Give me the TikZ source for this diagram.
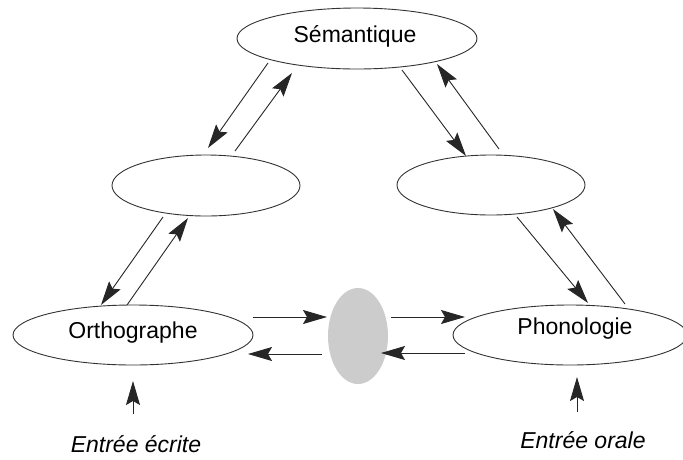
\documentclass[tikz,border=0pt]{standalone}
\usepackage{fontspec}
\setmainfont{Liberation Sans}
\usetikzlibrary{shapes.geometric,arrows.meta,calc}
\begin{document}
\begin{tikzpicture}[x=1pt,y=-1pt,
  ell/.style={draw=black!80,line width=0.9pt,ellipse,inner sep=0pt},
  lbl/.style={anchor=base,inner sep=0pt,font=\fontsize{23}{27}\selectfont},
  ilbl/.style={lbl,font=\fontsize{23}{27}\selectfont\itshape},
  arr/.style={draw=black!85,line width=0.9pt,-{Stealth[length=24pt,width=14pt,inset=4pt]}}]
\useasboundingbox (0,0) rectangle (683,459);
% nodes
\node[ell,minimum width=240pt,minimum height=61pt] (sem) at (357,38.5) {};
\node[ell,minimum width=188pt,minimum height=61pt] (L) at (206,185.5) {};
\node[ell,minimum width=188pt,minimum height=60pt] (R) at (491,185) {};
\node[ell,minimum width=240pt,minimum height=60pt] (orth) at (133,335) {};
\node[ell,minimum width=234pt,minimum height=60pt] (pho) at (570,335) {};
\node[ellipse,fill=gray!40,draw=none,minimum width=60pt,minimum height=96pt,inner sep=0pt] (grey) at (358,336) {};
% labels
\node[lbl] (semt) at (355,42) {Sémantique};
\node[lbl] (ortht) at (133,338) {Orthographe};
\node[lbl] (phot) at (575,334) {Phonologie};
\node[ilbl] (ecr) at (136,452) {Entrée écrite};
\node[ilbl] (ora) at (583,448) {Entrée orale};
% connectors
\draw[arr] ($(sem)+(-89,24.5)$) -- ($(L)+(2,-37.5)$);
\draw[arr] ($(L)+(29,-34.5)$) -- ($(sem)+(-65,34.5)$);
\draw[arr] ($(sem)+(45,31.5)$) -- ($(R)+(-25,-29)$);
\draw[arr] ($(R)+(8,-36)$) -- ($(sem)+(80,25.5)$);
\draw[arr] ($(L)+(-43,31.5)$) -- ($(orth)+(-32,-30)$);
\draw[arr] ($(orth)+(-6,-30)$) -- ($(L)+(-18,32.5)$);
\draw[arr] ($(R)+(26,32)$) -- ($(pho)+(18,-32)$);
\draw[arr] ($(pho)+(55,-31)$) -- ($(R)+(62,24)$);
\draw[arr] ($(orth)+(120,-18)$) -- ($(grey)+(-31,-19)$);
\draw[arr] ($(grey)+(33,-19)$) -- ($(pho)+(-105,-18)$);
\draw[arr] ($(pho)+(-105,18)$) -- ($(grey)+(23,17)$);
\draw[arr] ($(grey)+(-36,18)$) -- ($(orth)+(115,19)$);
\draw[arr] ($(ecr)+(-3,-30)$) -- ($(orth)+(0,46)$);
\draw[arr] ($(ora)+(-6,-28)$) -- ($(pho)+(7,42)$);
\end{tikzpicture}
\end{document}
